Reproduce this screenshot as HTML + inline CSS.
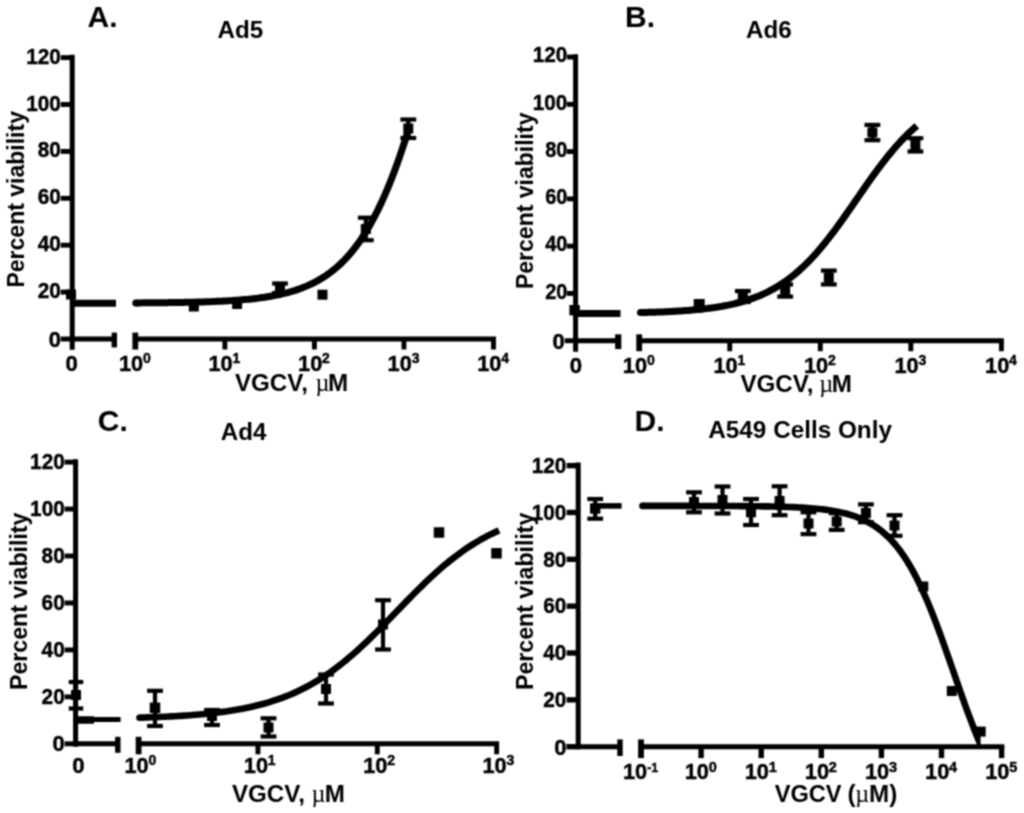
<!DOCTYPE html>
<html><head><meta charset="utf-8"><title>Figure</title><style>html,body{margin:0;padding:0;background:#fff}svg{display:block}</style></head><body>
<svg width="1024" height="813" viewBox="0 0 1024 813" font-family='"Liberation Sans", sans-serif' fill="#000">
<rect width="1024" height="813" fill="#fff"/>
<defs><filter id="soft" color-interpolation-filters="sRGB" x="0" y="0" width="100%" height="100%" filterUnits="userSpaceOnUse"><feConvolveMatrix order="3" kernelMatrix="1 2 1 2 4 2 1 2 1" divisor="16" edgeMode="duplicate"/></filter></defs>
<g filter="url(#soft)">
<rect x="66.00" y="289.50" width="10" height="10" fill="#000"/>
<rect x="188.80" y="301.50" width="10" height="10" fill="#000"/>
<rect x="232.12" y="299.00" width="10" height="10" fill="#000"/>
<line x1="280.00" y1="283.50" x2="280.00" y2="293.00" stroke="#000" stroke-width="4.2" stroke-linecap="butt"/>
<line x1="272.10" y1="283.50" x2="287.90" y2="283.50" stroke="#000" stroke-width="4.2" stroke-linecap="butt"/>
<line x1="272.10" y1="293.00" x2="287.90" y2="293.00" stroke="#000" stroke-width="4.2" stroke-linecap="butt"/>
<rect x="275.00" y="284.50" width="10" height="10" fill="#000"/>
<rect x="317.50" y="289.70" width="10" height="10" fill="#000"/>
<line x1="365.80" y1="217.70" x2="365.80" y2="240.20" stroke="#000" stroke-width="4.2" stroke-linecap="butt"/>
<line x1="357.90" y1="217.70" x2="373.70" y2="217.70" stroke="#000" stroke-width="4.2" stroke-linecap="butt"/>
<line x1="357.90" y1="240.20" x2="373.70" y2="240.20" stroke="#000" stroke-width="4.2" stroke-linecap="butt"/>
<rect x="360.80" y="224.00" width="10" height="10" fill="#000"/>
<line x1="408.30" y1="119.50" x2="408.30" y2="138.00" stroke="#000" stroke-width="4.2" stroke-linecap="butt"/>
<line x1="400.40" y1="119.50" x2="416.20" y2="119.50" stroke="#000" stroke-width="4.2" stroke-linecap="butt"/>
<line x1="400.40" y1="138.00" x2="416.20" y2="138.00" stroke="#000" stroke-width="4.2" stroke-linecap="butt"/>
<rect x="403.30" y="123.50" width="10" height="10" fill="#000"/>
<path d="M72.20,303.30 L116.00,303.30" fill="none" stroke="#000" stroke-width="7" stroke-linecap="butt" stroke-linejoin="round"/>
<circle cx="135.80" cy="302.91" r="3.5" fill="#000"/>
<path d="M135.80,302.91 L137.57,302.89 L139.85,302.88 L142.12,302.87 L144.40,302.85 L146.67,302.83 L148.95,302.82 L151.22,302.80 L153.50,302.78 L155.77,302.76 L158.05,302.74 L160.32,302.71 L162.59,302.69 L164.87,302.66 L167.14,302.64 L169.42,302.61 L171.69,302.58 L173.97,302.54 L176.24,302.51 L178.52,302.47 L180.79,302.43 L183.07,302.39 L185.34,302.35 L187.62,302.30 L189.89,302.25 L192.16,302.20 L194.44,302.14 L196.71,302.08 L198.99,302.02 L201.26,301.96 L203.54,301.89 L205.81,301.81 L208.09,301.73 L210.36,301.65 L212.64,301.56 L214.91,301.47 L217.18,301.37 L219.46,301.26 L221.73,301.15 L224.01,301.03 L226.28,300.91 L228.56,300.77 L230.83,300.63 L233.11,300.48 L235.38,300.33 L237.66,300.16 L239.93,299.98 L242.20,299.79 L244.48,299.59 L246.75,299.38 L249.03,299.16 L251.30,298.92 L253.58,298.67 L255.85,298.41 L258.13,298.12 L260.40,297.82 L262.68,297.51 L264.95,297.17 L267.23,296.82 L269.50,296.44 L271.77,296.05 L274.05,295.63 L276.32,295.18 L278.60,294.71 L280.87,294.21 L283.15,293.68 L285.42,293.12 L287.70,292.53 L289.97,291.90 L292.25,291.24 L294.52,290.54 L296.79,289.80 L299.07,289.01 L301.34,288.18 L303.62,287.30 L305.89,286.38 L308.17,285.40 L310.44,284.36 L312.72,283.27 L314.99,282.11 L317.27,280.89 L319.54,279.61 L321.81,278.25 L324.09,276.81 L326.36,275.30 L328.64,273.70 L330.91,272.02 L333.19,270.24 L335.46,268.38 L337.74,266.41 L340.01,264.33 L342.29,262.15 L344.56,259.86 L346.84,257.44 L349.11,254.90 L351.38,252.24 L353.66,249.44 L355.93,246.50 L358.21,243.42 L360.48,240.19 L362.76,236.80 L365.03,233.26 L367.31,229.55 L369.58,225.67 L371.86,221.62 L374.13,217.39 L376.40,212.97 L378.68,208.37 L380.95,203.58 L383.23,198.60 L385.50,193.41 L387.78,188.03 L390.05,182.45 L392.33,176.66 L394.60,170.67 L396.88,164.48 L399.15,158.08 L401.42,151.48 L403.70,144.68 L405.97,137.68 L408.25,130.48" fill="none" stroke="#000" stroke-width="7.0" stroke-linecap="butt" stroke-linejoin="round"/>
<line x1="72.20" y1="54.75" x2="72.20" y2="349.80" stroke="#000" stroke-width="5" stroke-linecap="butt"/>
<line x1="60.70" y1="339.00" x2="72.20" y2="339.00" stroke="#000" stroke-width="4.9" stroke-linecap="butt"/>
<text x="60.88" y="346.86" font-size="22.2" font-weight="bold" text-anchor="end" textLength="12.24" lengthAdjust="spacingAndGlyphs" stroke="#000" stroke-width="0.45">0</text>
<line x1="60.70" y1="292.10" x2="72.20" y2="292.10" stroke="#000" stroke-width="4.9" stroke-linecap="butt"/>
<text x="60.83" y="298.16" font-size="22.2" font-weight="bold" text-anchor="end" textLength="23.12" lengthAdjust="spacingAndGlyphs" stroke="#000" stroke-width="0.45">20</text>
<line x1="60.70" y1="245.20" x2="72.20" y2="245.20" stroke="#000" stroke-width="4.9" stroke-linecap="butt"/>
<text x="60.83" y="251.26" font-size="22.2" font-weight="bold" text-anchor="end" textLength="23.12" lengthAdjust="spacingAndGlyphs" stroke="#000" stroke-width="0.45">40</text>
<line x1="60.70" y1="198.30" x2="72.20" y2="198.30" stroke="#000" stroke-width="4.9" stroke-linecap="butt"/>
<text x="60.83" y="204.36" font-size="22.2" font-weight="bold" text-anchor="end" textLength="23.12" lengthAdjust="spacingAndGlyphs" stroke="#000" stroke-width="0.45">60</text>
<line x1="60.70" y1="151.40" x2="72.20" y2="151.40" stroke="#000" stroke-width="4.9" stroke-linecap="butt"/>
<text x="60.83" y="157.46" font-size="22.2" font-weight="bold" text-anchor="end" textLength="23.12" lengthAdjust="spacingAndGlyphs" stroke="#000" stroke-width="0.45">80</text>
<line x1="60.70" y1="104.50" x2="72.20" y2="104.50" stroke="#000" stroke-width="4.9" stroke-linecap="butt"/>
<text x="60.83" y="110.56" font-size="22.2" font-weight="bold" text-anchor="end" textLength="34.62" lengthAdjust="spacingAndGlyphs" stroke="#000" stroke-width="0.45">100</text>
<line x1="60.70" y1="57.60" x2="72.20" y2="57.60" stroke="#000" stroke-width="4.9" stroke-linecap="butt"/>
<text x="60.83" y="63.66" font-size="22.2" font-weight="bold" text-anchor="end" textLength="34.62" lengthAdjust="spacingAndGlyphs" stroke="#000" stroke-width="0.45">120</text>
<line x1="72.20" y1="339.00" x2="114.30" y2="339.00" stroke="#000" stroke-width="5" stroke-linecap="butt"/>
<line x1="114.30" y1="332.60" x2="114.30" y2="347.40" stroke="#000" stroke-width="5.4" stroke-linecap="butt"/>
<line x1="135.30" y1="339.00" x2="495.95" y2="339.00" stroke="#000" stroke-width="5" stroke-linecap="butt"/>
<line x1="135.30" y1="332.60" x2="135.30" y2="349.50" stroke="#000" stroke-width="5.8" stroke-linecap="butt"/>
<line x1="224.85" y1="339.00" x2="224.85" y2="349.50" stroke="#000" stroke-width="4.9" stroke-linecap="butt"/>
<line x1="314.40" y1="339.00" x2="314.40" y2="349.50" stroke="#000" stroke-width="4.9" stroke-linecap="butt"/>
<line x1="403.95" y1="339.00" x2="403.95" y2="349.50" stroke="#000" stroke-width="4.9" stroke-linecap="butt"/>
<line x1="493.50" y1="339.00" x2="493.50" y2="349.50" stroke="#000" stroke-width="4.9" stroke-linecap="butt"/>
<text x="71.60" y="370.70" font-size="22.2" font-weight="bold" text-anchor="middle" stroke="#000" stroke-width="0.45">0</text>
<text x="118.96" y="370.70" font-size="22.2" font-weight="bold" text-anchor="start" textLength="24.22" lengthAdjust="spacingAndGlyphs" stroke="#000" stroke-width="0.45">10</text>
<text x="142.98" y="363.10" font-size="14" font-weight="bold" text-anchor="start" stroke="#000" stroke-width="0.45">0</text>
<text x="208.51" y="370.70" font-size="22.2" font-weight="bold" text-anchor="start" textLength="24.22" lengthAdjust="spacingAndGlyphs" stroke="#000" stroke-width="0.45">10</text>
<text x="232.53" y="363.10" font-size="14" font-weight="bold" text-anchor="start" stroke="#000" stroke-width="0.45">1</text>
<text x="298.06" y="370.70" font-size="22.2" font-weight="bold" text-anchor="start" textLength="24.22" lengthAdjust="spacingAndGlyphs" stroke="#000" stroke-width="0.45">10</text>
<text x="322.08" y="363.10" font-size="14" font-weight="bold" text-anchor="start" stroke="#000" stroke-width="0.45">2</text>
<text x="387.61" y="370.70" font-size="22.2" font-weight="bold" text-anchor="start" textLength="24.22" lengthAdjust="spacingAndGlyphs" stroke="#000" stroke-width="0.45">10</text>
<text x="411.63" y="363.10" font-size="14" font-weight="bold" text-anchor="start" stroke="#000" stroke-width="0.45">3</text>
<text x="477.16" y="370.70" font-size="22.2" font-weight="bold" text-anchor="start" textLength="24.22" lengthAdjust="spacingAndGlyphs" stroke="#000" stroke-width="0.45">10</text>
<text x="501.18" y="363.10" font-size="14" font-weight="bold" text-anchor="start" stroke="#000" stroke-width="0.45">4</text>
<text x="87.60" y="26.90" font-size="30" font-weight="bold" text-anchor="start">A.</text>
<text x="217.60" y="37.60" font-size="24.2" font-weight="bold" text-anchor="start">Ad5</text>
<text x="234.90" y="391.00" font-size="24.2" font-weight="bold" text-anchor="start">VGCV,</text>
<text x="315.6" y="391.0" font-size="24.2" font-weight="normal" font-family='"Liberation Serif", "DejaVu Serif", serif'>µ</text>
<text x="328.00" y="391.00" font-size="24.2" font-weight="bold" text-anchor="start">M</text>
<text transform="translate(24.0,199.3) rotate(-90)" font-size="24.6" font-weight="bold" text-anchor="middle" textLength="176.5" lengthAdjust="spacingAndGlyphs">Percent viability</text>
<rect x="569.40" y="305.00" width="10.4" height="10.4" fill="#000"/>
<rect x="693.70" y="299.00" width="11" height="11" fill="#000"/>
<line x1="742.80" y1="291.00" x2="742.80" y2="302.00" stroke="#000" stroke-width="4.2" stroke-linecap="butt"/>
<line x1="734.90" y1="291.00" x2="750.70" y2="291.00" stroke="#000" stroke-width="4.2" stroke-linecap="butt"/>
<line x1="734.90" y1="302.00" x2="750.70" y2="302.00" stroke="#000" stroke-width="4.2" stroke-linecap="butt"/>
<rect x="737.80" y="292.00" width="10" height="10" fill="#000"/>
<line x1="785.20" y1="284.40" x2="785.20" y2="296.60" stroke="#000" stroke-width="4.2" stroke-linecap="butt"/>
<line x1="777.30" y1="284.40" x2="793.10" y2="284.40" stroke="#000" stroke-width="4.2" stroke-linecap="butt"/>
<line x1="777.30" y1="296.60" x2="793.10" y2="296.60" stroke="#000" stroke-width="4.2" stroke-linecap="butt"/>
<rect x="780.20" y="285.50" width="10" height="10" fill="#000"/>
<line x1="828.80" y1="270.60" x2="828.80" y2="284.40" stroke="#000" stroke-width="4.2" stroke-linecap="butt"/>
<line x1="820.90" y1="270.60" x2="836.70" y2="270.60" stroke="#000" stroke-width="4.2" stroke-linecap="butt"/>
<line x1="820.90" y1="284.40" x2="836.70" y2="284.40" stroke="#000" stroke-width="4.2" stroke-linecap="butt"/>
<rect x="823.80" y="272.50" width="10" height="10" fill="#000"/>
<line x1="872.40" y1="124.90" x2="872.40" y2="140.20" stroke="#000" stroke-width="4.2" stroke-linecap="butt"/>
<line x1="864.50" y1="124.90" x2="880.30" y2="124.90" stroke="#000" stroke-width="4.2" stroke-linecap="butt"/>
<line x1="864.50" y1="140.20" x2="880.30" y2="140.20" stroke="#000" stroke-width="4.2" stroke-linecap="butt"/>
<rect x="867.40" y="127.50" width="10" height="10" fill="#000"/>
<line x1="915.40" y1="138.20" x2="915.40" y2="151.50" stroke="#000" stroke-width="4.2" stroke-linecap="butt"/>
<line x1="907.50" y1="138.20" x2="923.30" y2="138.20" stroke="#000" stroke-width="4.2" stroke-linecap="butt"/>
<line x1="907.50" y1="151.50" x2="923.30" y2="151.50" stroke="#000" stroke-width="4.2" stroke-linecap="butt"/>
<rect x="910.40" y="140.00" width="10" height="10" fill="#000"/>
<path d="M575.60,313.51 L620.50,313.51" fill="none" stroke="#000" stroke-width="7" stroke-linecap="butt" stroke-linejoin="round"/>
<circle cx="640.50" cy="312.61" r="3.5" fill="#000"/>
<path d="M640.50,312.61 L641.51,312.55 L643.83,312.50 L646.14,312.44 L648.45,312.37 L650.77,312.30 L653.08,312.23 L655.39,312.15 L657.71,312.07 L660.02,311.98 L662.34,311.89 L664.65,311.79 L666.96,311.69 L669.28,311.58 L671.59,311.46 L673.90,311.34 L676.22,311.21 L678.53,311.07 L680.84,310.93 L683.16,310.77 L685.47,310.61 L687.78,310.43 L690.10,310.25 L692.41,310.05 L694.73,309.85 L697.04,309.63 L699.35,309.40 L701.67,309.15 L703.98,308.89 L706.29,308.62 L708.61,308.33 L710.92,308.02 L713.23,307.70 L715.55,307.36 L717.86,306.99 L720.17,306.61 L722.49,306.21 L724.80,305.78 L727.11,305.33 L729.43,304.85 L731.74,304.34 L734.06,303.81 L736.37,303.25 L738.68,302.66 L741.00,302.03 L743.31,301.38 L745.62,300.68 L747.94,299.95 L750.25,299.18 L752.56,298.37 L754.88,297.51 L757.19,296.62 L759.50,295.67 L761.82,294.68 L764.13,293.64 L766.45,292.55 L768.76,291.40 L771.07,290.20 L773.39,288.93 L775.70,287.61 L778.01,286.23 L780.33,284.79 L782.64,283.28 L784.95,281.70 L787.27,280.06 L789.58,278.34 L791.89,276.56 L794.21,274.70 L796.52,272.77 L798.84,270.76 L801.15,268.68 L803.46,266.52 L805.78,264.29 L808.09,261.98 L810.40,259.59 L812.72,257.13 L815.03,254.60 L817.34,251.99 L819.66,249.31 L821.97,246.56 L824.28,243.75 L826.60,240.87 L828.91,237.92 L831.22,234.92 L833.54,231.86 L835.85,228.75 L838.17,225.60 L840.48,222.40 L842.79,219.16 L845.11,215.89 L847.42,212.59 L849.73,209.27 L852.05,205.93 L854.36,202.58 L856.67,199.23 L858.99,195.87 L861.30,192.53 L863.61,189.19 L865.93,185.87 L868.24,182.58 L870.56,179.31 L872.87,176.08 L875.18,172.88 L877.50,169.73 L879.81,166.63 L882.12,163.58 L884.44,160.58 L886.75,157.65 L889.06,154.78 L891.38,151.97 L893.69,149.23 L896.00,146.56 L898.32,143.96 L900.63,141.44 L902.94,138.99 L905.26,136.61 L907.57,134.31 L909.89,132.09 L912.20,129.94 L914.51,127.87 L916.83,125.88" fill="none" stroke="#000" stroke-width="7.0" stroke-linecap="butt" stroke-linejoin="round"/>
<line x1="575.60" y1="54.17" x2="575.60" y2="351.70" stroke="#000" stroke-width="5" stroke-linecap="butt"/>
<line x1="564.70" y1="340.70" x2="575.60" y2="340.70" stroke="#000" stroke-width="4.9" stroke-linecap="butt"/>
<text x="564.78" y="348.56" font-size="22.2" font-weight="bold" text-anchor="end" textLength="12.24" lengthAdjust="spacingAndGlyphs" stroke="#000" stroke-width="0.45">0</text>
<line x1="567.00" y1="293.42" x2="575.60" y2="293.42" stroke="#000" stroke-width="4.9" stroke-linecap="butt"/>
<text x="567.40" y="298.68" font-size="22.2" font-weight="bold" text-anchor="end" textLength="22.26" lengthAdjust="spacingAndGlyphs" stroke="#000" stroke-width="0.45">20</text>
<line x1="567.00" y1="246.14" x2="575.60" y2="246.14" stroke="#000" stroke-width="4.9" stroke-linecap="butt"/>
<text x="567.40" y="251.40" font-size="22.2" font-weight="bold" text-anchor="end" textLength="22.26" lengthAdjust="spacingAndGlyphs" stroke="#000" stroke-width="0.45">40</text>
<line x1="567.00" y1="198.86" x2="575.60" y2="198.86" stroke="#000" stroke-width="4.9" stroke-linecap="butt"/>
<text x="567.40" y="204.12" font-size="22.2" font-weight="bold" text-anchor="end" textLength="22.26" lengthAdjust="spacingAndGlyphs" stroke="#000" stroke-width="0.45">60</text>
<line x1="567.00" y1="151.58" x2="575.60" y2="151.58" stroke="#000" stroke-width="4.9" stroke-linecap="butt"/>
<text x="567.40" y="156.84" font-size="22.2" font-weight="bold" text-anchor="end" textLength="22.26" lengthAdjust="spacingAndGlyphs" stroke="#000" stroke-width="0.45">80</text>
<line x1="567.00" y1="104.30" x2="575.60" y2="104.30" stroke="#000" stroke-width="4.9" stroke-linecap="butt"/>
<text x="567.43" y="109.56" font-size="22.2" font-weight="bold" text-anchor="end" textLength="34.62" lengthAdjust="spacingAndGlyphs" stroke="#000" stroke-width="0.45">100</text>
<line x1="567.00" y1="57.02" x2="575.60" y2="57.02" stroke="#000" stroke-width="4.9" stroke-linecap="butt"/>
<text x="567.43" y="62.28" font-size="22.2" font-weight="bold" text-anchor="end" textLength="34.62" lengthAdjust="spacingAndGlyphs" stroke="#000" stroke-width="0.45">120</text>
<line x1="575.60" y1="340.70" x2="618.20" y2="340.70" stroke="#000" stroke-width="5" stroke-linecap="butt"/>
<line x1="618.20" y1="334.30" x2="618.20" y2="349.10" stroke="#000" stroke-width="6.2" stroke-linecap="butt"/>
<line x1="639.20" y1="340.70" x2="1003.85" y2="340.70" stroke="#000" stroke-width="5" stroke-linecap="butt"/>
<line x1="639.20" y1="334.30" x2="639.20" y2="351.20" stroke="#000" stroke-width="5.8" stroke-linecap="butt"/>
<line x1="729.75" y1="340.70" x2="729.75" y2="351.20" stroke="#000" stroke-width="4.9" stroke-linecap="butt"/>
<line x1="820.30" y1="340.70" x2="820.30" y2="351.20" stroke="#000" stroke-width="4.9" stroke-linecap="butt"/>
<line x1="910.85" y1="340.70" x2="910.85" y2="351.20" stroke="#000" stroke-width="4.9" stroke-linecap="butt"/>
<line x1="1001.40" y1="340.70" x2="1001.40" y2="351.20" stroke="#000" stroke-width="4.9" stroke-linecap="butt"/>
<text x="575.90" y="372.60" font-size="22.2" font-weight="bold" text-anchor="middle" stroke="#000" stroke-width="0.45">0</text>
<text x="622.86" y="372.60" font-size="22.2" font-weight="bold" text-anchor="start" textLength="24.22" lengthAdjust="spacingAndGlyphs" stroke="#000" stroke-width="0.45">10</text>
<text x="646.88" y="365.00" font-size="14" font-weight="bold" text-anchor="start" stroke="#000" stroke-width="0.45">0</text>
<text x="713.41" y="372.60" font-size="22.2" font-weight="bold" text-anchor="start" textLength="24.22" lengthAdjust="spacingAndGlyphs" stroke="#000" stroke-width="0.45">10</text>
<text x="737.43" y="365.00" font-size="14" font-weight="bold" text-anchor="start" stroke="#000" stroke-width="0.45">1</text>
<text x="803.96" y="372.60" font-size="22.2" font-weight="bold" text-anchor="start" textLength="24.22" lengthAdjust="spacingAndGlyphs" stroke="#000" stroke-width="0.45">10</text>
<text x="827.98" y="365.00" font-size="14" font-weight="bold" text-anchor="start" stroke="#000" stroke-width="0.45">2</text>
<text x="894.51" y="372.60" font-size="22.2" font-weight="bold" text-anchor="start" textLength="24.22" lengthAdjust="spacingAndGlyphs" stroke="#000" stroke-width="0.45">10</text>
<text x="918.53" y="365.00" font-size="14" font-weight="bold" text-anchor="start" stroke="#000" stroke-width="0.45">3</text>
<text x="985.06" y="372.60" font-size="22.2" font-weight="bold" text-anchor="start" textLength="24.22" lengthAdjust="spacingAndGlyphs" stroke="#000" stroke-width="0.45">10</text>
<text x="1009.08" y="365.00" font-size="14" font-weight="bold" text-anchor="start" stroke="#000" stroke-width="0.45">4</text>
<text x="625.00" y="26.90" font-size="30" font-weight="bold" text-anchor="start">B.</text>
<text x="746.00" y="37.60" font-size="24.2" font-weight="bold" text-anchor="start">Ad6</text>
<text x="740.40" y="392.30" font-size="24.2" font-weight="bold" text-anchor="start">VGCV,</text>
<text x="819.3" y="392.3" font-size="24.2" font-weight="normal" font-family='"Liberation Serif", "DejaVu Serif", serif'>µ</text>
<text x="831.70" y="392.30" font-size="24.2" font-weight="bold" text-anchor="start">M</text>
<text transform="translate(532.5,200.8) rotate(-90)" font-size="24.6" font-weight="bold" text-anchor="middle" textLength="176.5" lengthAdjust="spacingAndGlyphs">Percent viability</text>
<line x1="76.00" y1="682.00" x2="76.00" y2="708.50" stroke="#000" stroke-width="4.2" stroke-linecap="butt"/>
<line x1="68.75" y1="682.00" x2="83.25" y2="682.00" stroke="#000" stroke-width="4.2" stroke-linecap="butt"/>
<line x1="68.75" y1="708.50" x2="83.25" y2="708.50" stroke="#000" stroke-width="4.2" stroke-linecap="butt"/>
<rect x="71.00" y="690.00" width="10" height="10" fill="#000"/>
<line x1="155.00" y1="690.80" x2="155.00" y2="726.00" stroke="#000" stroke-width="4.2" stroke-linecap="butt"/>
<line x1="147.10" y1="690.80" x2="162.90" y2="690.80" stroke="#000" stroke-width="4.2" stroke-linecap="butt"/>
<line x1="147.10" y1="726.00" x2="162.90" y2="726.00" stroke="#000" stroke-width="4.2" stroke-linecap="butt"/>
<rect x="149.75" y="702.55" width="10.5" height="10.5" fill="#000"/>
<line x1="212.00" y1="710.00" x2="212.00" y2="725.00" stroke="#000" stroke-width="4.2" stroke-linecap="butt"/>
<line x1="204.10" y1="710.00" x2="219.90" y2="710.00" stroke="#000" stroke-width="4.2" stroke-linecap="butt"/>
<line x1="204.10" y1="725.00" x2="219.90" y2="725.00" stroke="#000" stroke-width="4.2" stroke-linecap="butt"/>
<rect x="207.00" y="711.00" width="10" height="10" fill="#000"/>
<line x1="268.50" y1="718.30" x2="268.50" y2="736.50" stroke="#000" stroke-width="4.2" stroke-linecap="butt"/>
<line x1="260.60" y1="718.30" x2="276.40" y2="718.30" stroke="#000" stroke-width="4.2" stroke-linecap="butt"/>
<line x1="260.60" y1="736.50" x2="276.40" y2="736.50" stroke="#000" stroke-width="4.2" stroke-linecap="butt"/>
<rect x="263.50" y="722.50" width="10" height="10" fill="#000"/>
<line x1="326.00" y1="674.50" x2="326.00" y2="703.50" stroke="#000" stroke-width="4.2" stroke-linecap="butt"/>
<line x1="318.10" y1="674.50" x2="333.90" y2="674.50" stroke="#000" stroke-width="4.2" stroke-linecap="butt"/>
<line x1="318.10" y1="703.50" x2="333.90" y2="703.50" stroke="#000" stroke-width="4.2" stroke-linecap="butt"/>
<rect x="321.00" y="684.00" width="10" height="10" fill="#000"/>
<line x1="383.00" y1="600.20" x2="383.00" y2="649.50" stroke="#000" stroke-width="4.2" stroke-linecap="butt"/>
<line x1="375.10" y1="600.20" x2="390.90" y2="600.20" stroke="#000" stroke-width="4.2" stroke-linecap="butt"/>
<line x1="375.10" y1="649.50" x2="390.90" y2="649.50" stroke="#000" stroke-width="4.2" stroke-linecap="butt"/>
<rect x="378.00" y="619.50" width="10" height="10" fill="#000"/>
<rect x="433.75" y="527.25" width="10.5" height="10.5" fill="#000"/>
<rect x="491.25" y="548.05" width="10.5" height="10.5" fill="#000"/>
<path d="M75.60,719.40 L120.60,719.40" fill="none" stroke="#000" stroke-width="5" stroke-linecap="butt" stroke-linejoin="round"/>
<path d="M75.60,720.00 L94.00,720.00" fill="none" stroke="#000" stroke-width="7.5" stroke-linecap="butt" stroke-linejoin="round"/>
<circle cx="139.50" cy="717.68" r="3.3" fill="#000"/>
<path d="M139.50,717.68 L141.60,717.59 L144.61,717.50 L147.61,717.40 L150.61,717.29 L153.62,717.18 L156.62,717.07 L159.63,716.94 L162.63,716.81 L165.63,716.68 L168.64,716.53 L171.64,716.38 L174.64,716.21 L177.65,716.04 L180.65,715.86 L183.65,715.66 L186.66,715.46 L189.66,715.24 L192.67,715.02 L195.67,714.77 L198.67,714.52 L201.68,714.25 L204.68,713.96 L207.68,713.66 L210.69,713.34 L213.69,713.01 L216.69,712.65 L219.70,712.27 L222.70,711.88 L225.71,711.46 L228.71,711.02 L231.71,710.55 L234.72,710.06 L237.72,709.54 L240.72,709.00 L243.73,708.42 L246.73,707.81 L249.73,707.18 L252.74,706.50 L255.74,705.80 L258.75,705.05 L261.75,704.27 L264.75,703.45 L267.76,702.58 L270.76,701.67 L273.76,700.72 L276.77,699.72 L279.77,698.67 L282.77,697.57 L285.78,696.42 L288.78,695.22 L291.79,693.95 L294.79,692.64 L297.79,691.26 L300.80,689.82 L303.80,688.33 L306.80,686.76 L309.81,685.14 L312.81,683.45 L315.81,681.69 L318.82,679.86 L321.82,677.97 L324.83,676.00 L327.83,673.97 L330.83,671.87 L333.84,669.70 L336.84,667.46 L339.84,665.15 L342.85,662.77 L345.85,660.33 L348.85,657.82 L351.86,655.25 L354.86,652.62 L357.87,649.93 L360.87,647.18 L363.87,644.38 L366.88,641.53 L369.88,638.64 L372.88,635.70 L375.89,632.73 L378.89,629.72 L381.89,626.68 L384.90,623.62 L387.90,620.53 L390.91,617.44 L393.91,614.33 L396.91,611.22 L399.92,608.11 L402.92,605.00 L405.92,601.91 L408.93,598.83 L411.93,595.78 L414.94,592.75 L417.94,589.75 L420.94,586.79 L423.95,583.86 L426.95,580.99 L429.95,578.15 L432.96,575.37 L435.96,572.64 L438.96,569.97 L441.97,567.36 L444.97,564.81 L447.98,562.33 L450.98,559.91 L453.98,557.56 L456.99,555.27 L459.99,553.05 L462.99,550.91 L466.00,548.83 L469.00,546.82 L472.00,544.88 L475.01,543.01 L478.01,541.21 L481.02,539.47 L484.02,537.80 L487.02,536.20 L490.03,534.66 L493.03,533.18 L496.03,531.76 L499.04,530.41" fill="none" stroke="#000" stroke-width="6.6" stroke-linecap="butt" stroke-linejoin="round"/>
<line x1="75.60" y1="459.25" x2="75.60" y2="746.80" stroke="#000" stroke-width="5" stroke-linecap="butt"/>
<line x1="64.60" y1="743.80" x2="75.60" y2="743.80" stroke="#000" stroke-width="4.9" stroke-linecap="butt"/>
<text x="64.78" y="751.36" font-size="22.2" font-weight="bold" text-anchor="end" textLength="12.24" lengthAdjust="spacingAndGlyphs" stroke="#000" stroke-width="0.45">0</text>
<line x1="64.60" y1="696.85" x2="75.60" y2="696.85" stroke="#000" stroke-width="4.9" stroke-linecap="butt"/>
<text x="64.73" y="704.21" font-size="22.2" font-weight="bold" text-anchor="end" textLength="23.12" lengthAdjust="spacingAndGlyphs" stroke="#000" stroke-width="0.45">20</text>
<line x1="64.60" y1="649.90" x2="75.60" y2="649.90" stroke="#000" stroke-width="4.9" stroke-linecap="butt"/>
<text x="64.73" y="657.26" font-size="22.2" font-weight="bold" text-anchor="end" textLength="23.12" lengthAdjust="spacingAndGlyphs" stroke="#000" stroke-width="0.45">40</text>
<line x1="64.60" y1="602.95" x2="75.60" y2="602.95" stroke="#000" stroke-width="4.9" stroke-linecap="butt"/>
<text x="64.73" y="610.31" font-size="22.2" font-weight="bold" text-anchor="end" textLength="23.12" lengthAdjust="spacingAndGlyphs" stroke="#000" stroke-width="0.45">60</text>
<line x1="64.60" y1="556.00" x2="75.60" y2="556.00" stroke="#000" stroke-width="4.9" stroke-linecap="butt"/>
<text x="64.73" y="563.36" font-size="22.2" font-weight="bold" text-anchor="end" textLength="23.12" lengthAdjust="spacingAndGlyphs" stroke="#000" stroke-width="0.45">80</text>
<line x1="64.60" y1="509.05" x2="75.60" y2="509.05" stroke="#000" stroke-width="4.9" stroke-linecap="butt"/>
<text x="64.73" y="516.41" font-size="22.2" font-weight="bold" text-anchor="end" textLength="34.62" lengthAdjust="spacingAndGlyphs" stroke="#000" stroke-width="0.45">100</text>
<line x1="64.60" y1="462.10" x2="75.60" y2="462.10" stroke="#000" stroke-width="4.9" stroke-linecap="butt"/>
<text x="64.73" y="469.46" font-size="22.2" font-weight="bold" text-anchor="end" textLength="34.62" lengthAdjust="spacingAndGlyphs" stroke="#000" stroke-width="0.45">120</text>
<line x1="75.60" y1="743.80" x2="117.80" y2="743.80" stroke="#000" stroke-width="5" stroke-linecap="butt"/>
<line x1="117.80" y1="736.80" x2="117.80" y2="752.80" stroke="#000" stroke-width="5.4" stroke-linecap="butt"/>
<line x1="138.60" y1="743.80" x2="499.10" y2="743.80" stroke="#000" stroke-width="5" stroke-linecap="butt"/>
<line x1="138.60" y1="736.80" x2="138.60" y2="754.30" stroke="#000" stroke-width="5.8" stroke-linecap="butt"/>
<line x1="257.95" y1="743.80" x2="257.95" y2="754.30" stroke="#000" stroke-width="4.9" stroke-linecap="butt"/>
<line x1="377.30" y1="743.80" x2="377.30" y2="754.30" stroke="#000" stroke-width="4.9" stroke-linecap="butt"/>
<line x1="496.65" y1="743.80" x2="496.65" y2="754.30" stroke="#000" stroke-width="4.9" stroke-linecap="butt"/>
<text x="78.40" y="772.90" font-size="22.2" font-weight="bold" text-anchor="middle" stroke="#000" stroke-width="0.45">0</text>
<text x="124.46" y="772.90" font-size="22.2" font-weight="bold" text-anchor="start" textLength="24.22" lengthAdjust="spacingAndGlyphs" stroke="#000" stroke-width="0.45">10</text>
<text x="148.48" y="765.30" font-size="14" font-weight="bold" text-anchor="start" stroke="#000" stroke-width="0.45">0</text>
<text x="243.81" y="772.90" font-size="22.2" font-weight="bold" text-anchor="start" textLength="24.22" lengthAdjust="spacingAndGlyphs" stroke="#000" stroke-width="0.45">10</text>
<text x="267.83" y="765.30" font-size="14" font-weight="bold" text-anchor="start" stroke="#000" stroke-width="0.45">1</text>
<text x="363.16" y="772.90" font-size="22.2" font-weight="bold" text-anchor="start" textLength="24.22" lengthAdjust="spacingAndGlyphs" stroke="#000" stroke-width="0.45">10</text>
<text x="387.18" y="765.30" font-size="14" font-weight="bold" text-anchor="start" stroke="#000" stroke-width="0.45">2</text>
<text x="482.51" y="772.90" font-size="22.2" font-weight="bold" text-anchor="start" textLength="24.22" lengthAdjust="spacingAndGlyphs" stroke="#000" stroke-width="0.45">10</text>
<text x="506.53" y="765.30" font-size="14" font-weight="bold" text-anchor="start" stroke="#000" stroke-width="0.45">3</text>
<text x="97.80" y="430.50" font-size="30" font-weight="bold" text-anchor="start">C.</text>
<text x="220.80" y="440.20" font-size="24.2" font-weight="bold" text-anchor="start">Ad4</text>
<text x="231.90" y="802.00" font-size="24.2" font-weight="bold" text-anchor="start">VGCV,</text>
<text x="311.4" y="802.0" font-size="24.2" font-weight="normal" font-family='"Liberation Serif", "DejaVu Serif", serif'>µ</text>
<text x="324.70" y="802.00" font-size="24.2" font-weight="bold" text-anchor="start">M</text>
<text transform="translate(27.0,601.3) rotate(-90)" font-size="24.6" font-weight="bold" text-anchor="middle" textLength="177.5" lengthAdjust="spacingAndGlyphs">Percent viability</text>
<line x1="595.20" y1="499.00" x2="595.20" y2="518.70" stroke="#000" stroke-width="4.2" stroke-linecap="butt"/>
<line x1="587.30" y1="499.00" x2="603.10" y2="499.00" stroke="#000" stroke-width="4.2" stroke-linecap="butt"/>
<line x1="587.30" y1="518.70" x2="603.10" y2="518.70" stroke="#000" stroke-width="4.2" stroke-linecap="butt"/>
<rect x="590.00" y="503.30" width="10.4" height="10.4" fill="#000"/>
<line x1="694.00" y1="492.30" x2="694.00" y2="512.30" stroke="#000" stroke-width="4.2" stroke-linecap="butt"/>
<line x1="686.10" y1="492.30" x2="701.90" y2="492.30" stroke="#000" stroke-width="4.2" stroke-linecap="butt"/>
<line x1="686.10" y1="512.30" x2="701.90" y2="512.30" stroke="#000" stroke-width="4.2" stroke-linecap="butt"/>
<rect x="689.00" y="497.00" width="10" height="10" fill="#000"/>
<line x1="722.50" y1="486.50" x2="722.50" y2="513.50" stroke="#000" stroke-width="4.2" stroke-linecap="butt"/>
<line x1="714.60" y1="486.50" x2="730.40" y2="486.50" stroke="#000" stroke-width="4.2" stroke-linecap="butt"/>
<line x1="714.60" y1="513.50" x2="730.40" y2="513.50" stroke="#000" stroke-width="4.2" stroke-linecap="butt"/>
<rect x="717.50" y="495.00" width="10" height="10" fill="#000"/>
<line x1="751.00" y1="499.00" x2="751.00" y2="525.00" stroke="#000" stroke-width="4.2" stroke-linecap="butt"/>
<line x1="743.10" y1="499.00" x2="758.90" y2="499.00" stroke="#000" stroke-width="4.2" stroke-linecap="butt"/>
<line x1="743.10" y1="525.00" x2="758.90" y2="525.00" stroke="#000" stroke-width="4.2" stroke-linecap="butt"/>
<rect x="746.00" y="507.30" width="10" height="10" fill="#000"/>
<line x1="779.60" y1="486.30" x2="779.60" y2="515.20" stroke="#000" stroke-width="4.2" stroke-linecap="butt"/>
<line x1="771.70" y1="486.30" x2="787.50" y2="486.30" stroke="#000" stroke-width="4.2" stroke-linecap="butt"/>
<line x1="771.70" y1="515.20" x2="787.50" y2="515.20" stroke="#000" stroke-width="4.2" stroke-linecap="butt"/>
<rect x="774.60" y="496.00" width="10" height="10" fill="#000"/>
<line x1="808.50" y1="512.30" x2="808.50" y2="534.10" stroke="#000" stroke-width="4.2" stroke-linecap="butt"/>
<line x1="800.60" y1="512.30" x2="816.40" y2="512.30" stroke="#000" stroke-width="4.2" stroke-linecap="butt"/>
<line x1="800.60" y1="534.10" x2="816.40" y2="534.10" stroke="#000" stroke-width="4.2" stroke-linecap="butt"/>
<rect x="803.50" y="518.50" width="10" height="10" fill="#000"/>
<line x1="836.70" y1="513.20" x2="836.70" y2="529.90" stroke="#000" stroke-width="4.2" stroke-linecap="butt"/>
<line x1="828.80" y1="513.20" x2="844.60" y2="513.20" stroke="#000" stroke-width="4.2" stroke-linecap="butt"/>
<line x1="828.80" y1="529.90" x2="844.60" y2="529.90" stroke="#000" stroke-width="4.2" stroke-linecap="butt"/>
<rect x="831.70" y="516.50" width="10" height="10" fill="#000"/>
<line x1="865.90" y1="504.40" x2="865.90" y2="522.20" stroke="#000" stroke-width="4.2" stroke-linecap="butt"/>
<line x1="858.00" y1="504.40" x2="873.80" y2="504.40" stroke="#000" stroke-width="4.2" stroke-linecap="butt"/>
<line x1="858.00" y1="522.20" x2="873.80" y2="522.20" stroke="#000" stroke-width="4.2" stroke-linecap="butt"/>
<rect x="860.90" y="508.00" width="10" height="10" fill="#000"/>
<line x1="894.50" y1="515.20" x2="894.50" y2="535.80" stroke="#000" stroke-width="4.2" stroke-linecap="butt"/>
<line x1="886.60" y1="515.20" x2="902.40" y2="515.20" stroke="#000" stroke-width="4.2" stroke-linecap="butt"/>
<line x1="886.60" y1="535.80" x2="902.40" y2="535.80" stroke="#000" stroke-width="4.2" stroke-linecap="butt"/>
<rect x="889.50" y="520.50" width="10" height="10" fill="#000"/>
<rect x="918.30" y="581.50" width="10" height="10" fill="#000"/>
<rect x="946.80" y="686.00" width="10" height="10" fill="#000"/>
<rect x="975.70" y="726.60" width="10" height="10" fill="#000"/>
<path d="M596.00,505.90 L621.60,505.90" fill="none" stroke="#000" stroke-width="5.6" stroke-linecap="butt" stroke-linejoin="round"/>
<clipPath id="cl1"><rect x="0" y="0" width="980.6" height="813"/></clipPath>
<circle cx="642.50" cy="505.90" r="3.3" fill="#000"/>
<path d="M642.50,505.90 L643.83,505.90 L646.66,505.90 L649.49,505.90 L652.31,505.90 L655.14,505.90 L657.97,505.90 L660.80,505.90 L663.63,505.91 L666.46,505.91 L669.29,505.91 L672.12,505.91 L674.94,505.91 L677.77,505.91 L680.60,505.92 L683.43,505.92 L686.26,505.92 L689.09,505.92 L691.92,505.93 L694.75,505.93 L697.57,505.94 L700.40,505.94 L703.23,505.95 L706.06,505.95 L708.89,505.96 L711.72,505.97 L714.55,505.97 L717.38,505.98 L720.20,505.99 L723.03,506.00 L725.86,506.01 L728.69,506.03 L731.52,506.04 L734.35,506.05 L737.18,506.07 L740.00,506.09 L742.83,506.11 L745.66,506.13 L748.49,506.16 L751.32,506.19 L754.15,506.22 L756.98,506.25 L759.81,506.29 L762.63,506.33 L765.46,506.37 L768.29,506.42 L771.12,506.48 L773.95,506.54 L776.78,506.60 L779.61,506.68 L782.44,506.76 L785.26,506.85 L788.09,506.95 L790.92,507.06 L793.75,507.17 L796.58,507.31 L799.41,507.45 L802.24,507.61 L805.06,507.79 L807.89,507.98 L810.72,508.20 L813.55,508.44 L816.38,508.70 L819.21,508.98 L822.04,509.30 L824.87,509.65 L827.69,510.03 L830.52,510.45 L833.35,510.92 L836.18,511.43 L839.01,511.99 L841.84,512.61 L844.67,513.28 L847.50,514.03 L850.32,514.85 L853.15,515.74 L855.98,516.73 L858.81,517.81 L861.64,518.99 L864.47,520.29 L867.30,521.70 L870.13,523.25 L872.95,524.94 L875.78,526.78 L878.61,528.79 L881.44,530.98 L884.27,533.36 L887.10,535.94 L889.93,538.73 L892.75,541.76 L895.58,545.03 L898.41,548.55 L901.24,552.34 L904.07,556.41 L906.90,560.76 L909.73,565.42 L912.56,570.37 L915.38,575.63 L918.21,581.20 L921.04,587.08 L923.87,593.26 L926.70,599.73 L929.53,606.49 L932.36,613.52 L935.19,620.79 L938.01,628.28 L940.84,635.97 L943.67,643.83 L946.50,651.82 L949.33,659.90 L952.16,668.04 L954.99,676.20 L957.82,684.35 L960.64,692.43 L963.47,700.41 L966.30,708.26 L969.13,715.95 L971.96,723.43 L974.79,730.70 L977.62,737.71 L980.44,744.46" fill="none" stroke="#000" stroke-width="6.6" stroke-linecap="butt" stroke-linejoin="round" clip-path="url(#cl1)"/>
<line x1="578.20" y1="462.50" x2="578.20" y2="749.20" stroke="#000" stroke-width="5" stroke-linecap="butt"/>
<line x1="566.40" y1="746.70" x2="578.20" y2="746.70" stroke="#000" stroke-width="5.4" stroke-linecap="butt"/>
<text x="566.48" y="754.77" font-size="22.8" font-weight="bold" text-anchor="end" textLength="12.24" lengthAdjust="spacingAndGlyphs" stroke="#000" stroke-width="0.45">0</text>
<line x1="566.70" y1="699.85" x2="578.20" y2="699.85" stroke="#000" stroke-width="5.4" stroke-linecap="butt"/>
<text x="566.43" y="707.12" font-size="22.8" font-weight="bold" text-anchor="end" textLength="23.12" lengthAdjust="spacingAndGlyphs" stroke="#000" stroke-width="0.45">20</text>
<line x1="566.70" y1="653.00" x2="578.20" y2="653.00" stroke="#000" stroke-width="5.4" stroke-linecap="butt"/>
<text x="566.43" y="660.27" font-size="22.8" font-weight="bold" text-anchor="end" textLength="23.12" lengthAdjust="spacingAndGlyphs" stroke="#000" stroke-width="0.45">40</text>
<line x1="566.70" y1="606.15" x2="578.20" y2="606.15" stroke="#000" stroke-width="5.4" stroke-linecap="butt"/>
<text x="566.43" y="613.42" font-size="22.8" font-weight="bold" text-anchor="end" textLength="23.12" lengthAdjust="spacingAndGlyphs" stroke="#000" stroke-width="0.45">60</text>
<line x1="566.70" y1="559.30" x2="578.20" y2="559.30" stroke="#000" stroke-width="5.4" stroke-linecap="butt"/>
<text x="566.43" y="566.57" font-size="22.8" font-weight="bold" text-anchor="end" textLength="23.12" lengthAdjust="spacingAndGlyphs" stroke="#000" stroke-width="0.45">80</text>
<line x1="566.70" y1="512.45" x2="578.20" y2="512.45" stroke="#000" stroke-width="5.4" stroke-linecap="butt"/>
<text x="566.43" y="519.72" font-size="22.8" font-weight="bold" text-anchor="end" textLength="34.62" lengthAdjust="spacingAndGlyphs" stroke="#000" stroke-width="0.45">100</text>
<line x1="566.70" y1="465.60" x2="578.20" y2="465.60" stroke="#000" stroke-width="5.4" stroke-linecap="butt"/>
<text x="566.43" y="472.87" font-size="22.8" font-weight="bold" text-anchor="end" textLength="34.62" lengthAdjust="spacingAndGlyphs" stroke="#000" stroke-width="0.45">120</text>
<line x1="578.20" y1="746.70" x2="620.00" y2="746.70" stroke="#000" stroke-width="5" stroke-linecap="butt"/>
<line x1="620.00" y1="739.40" x2="620.00" y2="756.00" stroke="#000" stroke-width="5.4" stroke-linecap="butt"/>
<line x1="641.00" y1="746.70" x2="1004.30" y2="746.70" stroke="#000" stroke-width="5" stroke-linecap="butt"/>
<line x1="641.00" y1="739.40" x2="641.00" y2="758.10" stroke="#000" stroke-width="5.8" stroke-linecap="butt"/>
<line x1="701.10" y1="746.70" x2="701.10" y2="758.10" stroke="#000" stroke-width="5.4" stroke-linecap="butt"/>
<line x1="761.20" y1="746.70" x2="761.20" y2="758.10" stroke="#000" stroke-width="5.4" stroke-linecap="butt"/>
<line x1="821.30" y1="746.70" x2="821.30" y2="758.10" stroke="#000" stroke-width="5.4" stroke-linecap="butt"/>
<line x1="881.40" y1="746.70" x2="881.40" y2="758.10" stroke="#000" stroke-width="5.4" stroke-linecap="butt"/>
<line x1="941.50" y1="746.70" x2="941.50" y2="758.10" stroke="#000" stroke-width="5.4" stroke-linecap="butt"/>
<line x1="1001.60" y1="746.70" x2="1001.60" y2="758.10" stroke="#000" stroke-width="5.4" stroke-linecap="butt"/>
<text x="622.89" y="779.10" font-size="22.8" font-weight="bold" text-anchor="start" textLength="24.22" lengthAdjust="spacingAndGlyphs" stroke="#000" stroke-width="0.45">10</text>
<text x="647.17" y="771.50" font-size="12.47" font-weight="bold" text-anchor="start" stroke="#000" stroke-width="0.45">-1</text>
<text x="684.64" y="779.10" font-size="22.8" font-weight="bold" text-anchor="start" textLength="24.22" lengthAdjust="spacingAndGlyphs" stroke="#000" stroke-width="0.45">10</text>
<text x="708.64" y="771.50" font-size="14.5" font-weight="bold" text-anchor="start" stroke="#000" stroke-width="0.45">0</text>
<text x="744.74" y="779.10" font-size="22.8" font-weight="bold" text-anchor="start" textLength="24.22" lengthAdjust="spacingAndGlyphs" stroke="#000" stroke-width="0.45">10</text>
<text x="768.74" y="771.50" font-size="14.5" font-weight="bold" text-anchor="start" stroke="#000" stroke-width="0.45">1</text>
<text x="804.84" y="779.10" font-size="22.8" font-weight="bold" text-anchor="start" textLength="24.22" lengthAdjust="spacingAndGlyphs" stroke="#000" stroke-width="0.45">10</text>
<text x="828.84" y="771.50" font-size="14.5" font-weight="bold" text-anchor="start" stroke="#000" stroke-width="0.45">2</text>
<text x="864.94" y="779.10" font-size="22.8" font-weight="bold" text-anchor="start" textLength="24.22" lengthAdjust="spacingAndGlyphs" stroke="#000" stroke-width="0.45">10</text>
<text x="888.94" y="771.50" font-size="14.5" font-weight="bold" text-anchor="start" stroke="#000" stroke-width="0.45">3</text>
<text x="925.04" y="779.10" font-size="22.8" font-weight="bold" text-anchor="start" textLength="24.22" lengthAdjust="spacingAndGlyphs" stroke="#000" stroke-width="0.45">10</text>
<text x="949.04" y="771.50" font-size="14.5" font-weight="bold" text-anchor="start" stroke="#000" stroke-width="0.45">4</text>
<text x="985.14" y="779.10" font-size="22.8" font-weight="bold" text-anchor="start" textLength="24.22" lengthAdjust="spacingAndGlyphs" stroke="#000" stroke-width="0.45">10</text>
<text x="1009.14" y="771.50" font-size="14.5" font-weight="bold" text-anchor="start" stroke="#000" stroke-width="0.45">5</text>
<text x="634.50" y="430.60" font-size="30" font-weight="bold" text-anchor="start">D.</text>
<text x="708.30" y="437.70" font-size="24.3" font-weight="bold" text-anchor="start">A549 Cells Only</text>
<text x="774.70" y="802.20" font-size="24.2" font-weight="bold" text-anchor="start" textLength="66.90" lengthAdjust="spacingAndGlyphs">VGCV</text>
<text x="855.3" y="802.2" font-size="24.2" font-weight="normal" font-family='"Liberation Serif", "DejaVu Serif", serif'>µ</text>
<text x="869.00" y="802.20" font-size="24.2" font-weight="bold" text-anchor="start">M)</text>
<text x="847.60" y="802.20" font-size="24.2" font-weight="bold" text-anchor="start">(</text>
<text transform="translate(533.0,601.3) rotate(-90)" font-size="24.6" font-weight="bold" text-anchor="middle" textLength="177.5" lengthAdjust="spacingAndGlyphs">Percent viability</text>
</g>
</svg>
</body></html>
